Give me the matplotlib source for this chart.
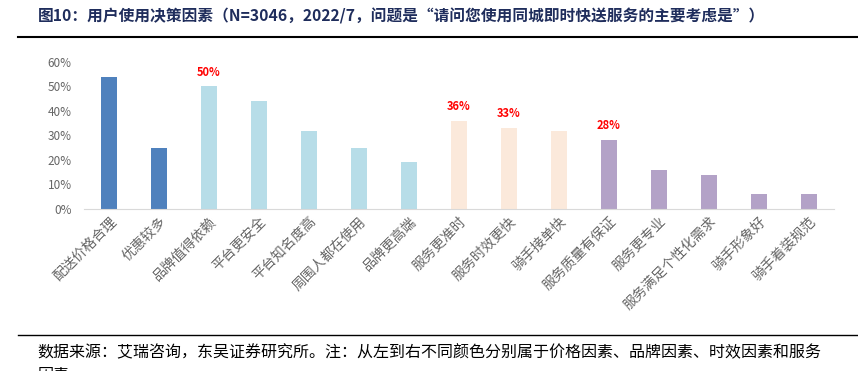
import matplotlib
matplotlib.use("Agg")
import matplotlib.pyplot as plt
from matplotlib.ticker import PercentFormatter

plt.rcParams['font.family'] = ['Noto Sans CJK SC', 'DejaVu Sans']

# data
categories = ['配送价格合理', '优惠较多', '品牌值得依赖', '平台更安全', '平台知名度高',
              '周围人都在使用', '品牌更高端', '服务更准时', '服务时效更快', '骑手接单快',
              '服务质量有保证', '服务更专业', '服务满足个性化需求', '骑手形象好', '骑手着装规范']
values = [54, 25, 50, 44, 32, 25, 19, 36, 33, 32, 28, 16, 14, 6, 6]
groups = [0, 0, 1, 1, 1, 1, 1, 2, 2, 2, 3, 3, 3, 3, 3]
group_colors = ['#4F81BD', '#B7DDE8', '#FBE9DB', '#B3A2C7']
labeled = {2: '50%', 7: '36%', 8: '33%', 10: '28%'}

title = '图10：用户使用决策因素（N=3046，2022/7，问题是“请问您使用同城即时快送服务的主要考虑是”）'
note = '数据来源：艾瑞咨询，东吴证券研究所。注：从左到右不同颜色分别属于价格因素、品牌因素、时效因素和服务'
note2 = '因素'

fig = plt.figure(figsize=(8.58, 3.71), dpi=100)
ax = fig.add_axes([0.098, 0.437, 0.874, 0.396])

x = range(len(categories))
colors = [group_colors[g] for g in groups]
ax.bar(x, values, width=0.32, color=colors)

for i, txt in labeled.items():
    ax.text(i, values[i] + 3.2, txt, ha='center', va='bottom', color='#FF0000',
            fontsize=8, fontweight='bold')

ax.set_xlim(-0.5, len(categories) - 0.5)
ax.set_ylim(0, 60)
ax.set_yticks(range(0, 61, 10))
ax.yaxis.set_major_formatter(PercentFormatter(decimals=0))
ax.set_xticks(list(x))
ax.set_xticklabels(categories, rotation=45, ha='right', rotation_mode='anchor',
                   fontsize=10, color='#666666')
ax.tick_params(axis='y', length=0, labelsize=8.5, labelcolor='#666666', pad=9)
ax.tick_params(axis='x', length=0, pad=4)
for s in ['top', 'right', 'left']:
    ax.spines[s].set_visible(False)
ax.spines['bottom'].set_color('#D9D9D9')

fig.text(0.044, 0.955, title, fontsize=11.3, fontweight='bold', color='#1F2D5C',
         ha='left', va='center')
fig.add_artist(plt.Line2D([0.021, 1.0], [0.9, 0.9], color='black', lw=1.5))
fig.add_artist(plt.Line2D([0.021, 1.0], [0.097, 0.097], color='black', lw=1.0))
fig.text(0.044, 0.052, note, fontsize=11.5, color='black', ha='left', va='center')
fig.text(0.044, -0.012, note2, fontsize=11.5, color='black', ha='left', va='center')

fig.savefig('out.png', dpi=100)
